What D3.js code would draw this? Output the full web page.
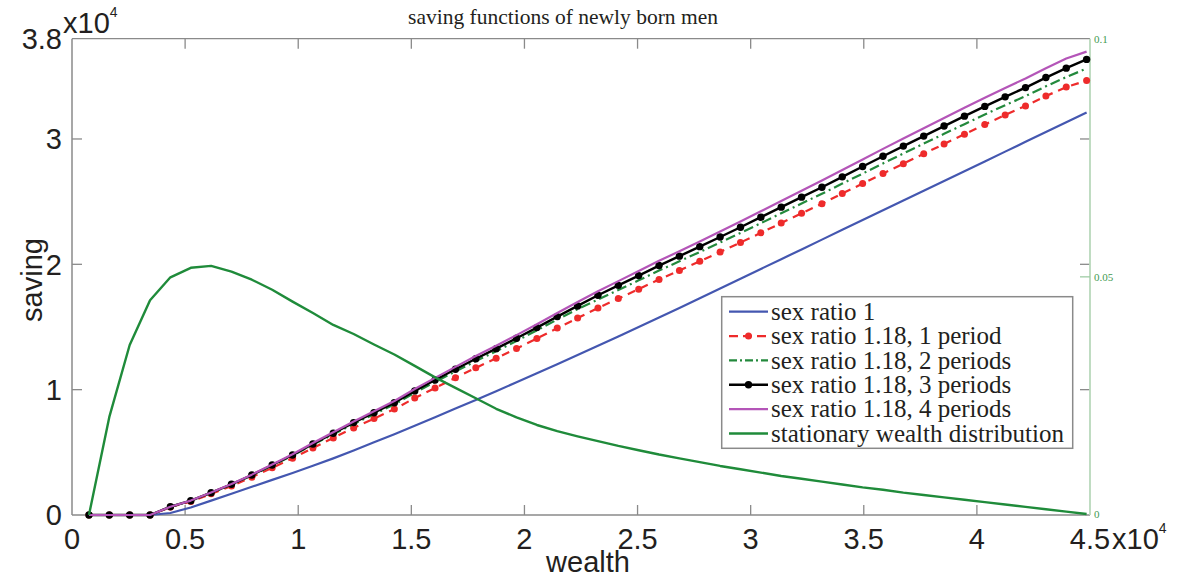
<!DOCTYPE html>
<html><head><meta charset="utf-8">
<script src="https://cdn.jsdelivr.net/npm/d3@7"></script>
<style>body{margin:0;background:#fff}svg{display:block}</style>
</head><body>
<svg id="c" width="1185" height="579"></svg>
<script>
// wealth grid (x 10^4)
const wealth = [0.075,0.165,0.255,0.345,0.435,0.525,0.615,0.705,0.795,0.885,0.975,1.065,1.155,1.245,1.335,1.425,1.515,1.605,1.695,1.785,1.875,1.965,2.055,2.145,2.235,2.325,2.415,2.505,2.595,2.685,2.775,2.865,2.955,3.045,3.135,3.225,3.315,3.405,3.495,3.585,3.675,3.765,3.855,3.945,4.035,4.125,4.215,4.305,4.395,4.485];
// saving (x 10^4)
const ratio1 = [0,0,0,0,0.016,0.06,0.115,0.17,0.225,0.28,0.335,0.393,0.452,0.515,0.58,0.645,0.712,0.78,0.849,0.918,0.988,1.059,1.131,1.203,1.276,1.35,1.425,1.5,1.575,1.651,1.729,1.807,1.885,1.963,2.041,2.119,2.197,2.275,2.353,2.431,2.509,2.587,2.665,2.743,2.821,2.899,2.977,3.055,3.133,3.211];
const period1 = [0,0,0,0,0.063,0.108,0.169,0.232,0.302,0.377,0.452,0.535,0.615,0.695,0.769,0.845,0.933,1.014,1.095,1.174,1.25,1.328,1.408,1.491,1.571,1.652,1.727,1.802,1.879,1.951,2.024,2.098,2.174,2.251,2.329,2.407,2.484,2.565,2.644,2.724,2.803,2.882,2.96,3.038,3.116,3.191,3.264,3.342,3.414,3.466];
const period2 = [0,0,0,0,0.065,0.113,0.176,0.243,0.316,0.395,0.474,0.561,0.645,0.726,0.804,0.883,0.975,1.061,1.146,1.228,1.307,1.389,1.473,1.559,1.643,1.718,1.795,1.872,1.95,2.024,2.098,2.174,2.25,2.328,2.407,2.485,2.563,2.644,2.724,2.805,2.884,2.963,3.041,3.118,3.195,3.269,3.342,3.42,3.494,3.562];
const period3 = [0,0,0,0,0.066,0.114,0.178,0.245,0.319,0.399,0.479,0.567,0.652,0.737,0.816,0.896,0.99,1.077,1.163,1.247,1.327,1.41,1.495,1.583,1.668,1.753,1.832,1.91,1.99,2.065,2.141,2.218,2.296,2.376,2.456,2.536,2.615,2.698,2.78,2.862,2.943,3.023,3.103,3.182,3.26,3.336,3.41,3.49,3.565,3.635];
const period4 = [0,0,0,0,0.066,0.115,0.18,0.247,0.322,0.403,0.484,0.574,0.66,0.746,0.827,0.909,1.005,1.094,1.182,1.268,1.35,1.435,1.522,1.612,1.699,1.785,1.866,1.946,2.028,2.104,2.182,2.261,2.341,2.423,2.505,2.587,2.668,2.753,2.837,2.921,3.004,3.086,3.168,3.249,3.329,3.407,3.483,3.565,3.642,3.697];
// stationary wealth distribution (right axis)
const distribution = [0,0.0206,0.0357,0.0451,0.0499,0.0519,0.0523,0.0511,0.0494,0.0473,0.0448,0.0424,0.0399,0.038,0.0358,0.0337,0.0313,0.0289,0.0267,0.0245,0.0223,0.0205,0.0189,0.0176,0.0165,0.0155,0.0145,0.0136,0.0127,0.0119,0.0111,0.0103,0.0096,0.0089,0.0082,0.0076,0.007,0.0064,0.0058,0.0053,0.0047,0.0042,0.0037,0.0032,0.0027,0.0022,0.0017,0.0012,0.0007,0.0002];

const xTicks = [0,0.5,1,1.5,2,2.5,3,3.5,4,4.5];
const xTickLabels = ["0","0.5","1","1.5","2","2.5","3","3.5","4","4.5"];
const yTicks = [0,1,2,3,3.8];
const yTickLabels = ["0","1","2","3","3.8"];
const y2Ticks = [0,0.05,0.1];
const y2TickLabels = ["0","0.05","0.1"];
const legendLabels = ["sex ratio 1","sex ratio 1.18, 1 period","sex ratio 1.18, 2 periods","sex ratio 1.18, 3 periods","sex ratio 1.18, 4 periods","stationary wealth distribution"];

const svg = d3.select("#c");
const L=72, R=1090, T=38.7, B=515;
const x = d3.scaleLinear().domain([0,4.5]).range([L,R]);
const y = d3.scaleLinear().domain([0,3.8]).range([B,T]);
const y2 = d3.scaleLinear().domain([0,0.1]).range([B,T]);
const axisGray = "#8a8a8a", txt="#231f20";
const sans = "'Liberation Sans', Arial, sans-serif", serif="'Liberation Serif','Times New Roman',serif";

const series = [
  {vals: ratio1, color:"#4457b0", dash:null, marker:false, w:2.2},
  {vals: period1, color:"#ee2b2b", dash:"8,6", marker:true, r:3.5, w:2.2},
  {vals: period2, color:"#23893c", dash:"10,4,2,4", marker:false, w:2.2},
  {vals: period3, color:"#000000", dash:null, marker:true, r:3.7, w:2.4},
  {vals: period4, color:"#b455b8", dash:null, marker:false, w:2.2},
];
const distColor = "#1f8b3a";

// axes frame
const g = svg.append("g");
g.append("line").attr("x1",L).attr("x2",R).attr("y1",T).attr("y2",T).attr("stroke",axisGray).attr("stroke-width",1.3);
g.append("line").attr("x1",L).attr("x2",R).attr("y1",B).attr("y2",B).attr("stroke",axisGray).attr("stroke-width",1.5);
g.append("line").attr("x1",L).attr("x2",L).attr("y1",T).attr("y2",B).attr("stroke",axisGray).attr("stroke-width",1.5);

// x ticks (inward, bottom and top)
xTicks.slice(1,-1).forEach(t=>{
  g.append("line").attr("x1",x(t)).attr("x2",x(t)).attr("y1",B).attr("y2",B-10).attr("stroke",axisGray).attr("stroke-width",1.3);
  g.append("line").attr("x1",x(t)).attr("x2",x(t)).attr("y1",T).attr("y2",T+10).attr("stroke",axisGray).attr("stroke-width",1.3);
});
// y ticks (left inward, right mirrored)
yTicks.slice(1,-1).forEach(t=>{
  g.append("line").attr("x1",L).attr("x2",L+10).attr("y1",y(t)).attr("y2",y(t)).attr("stroke",axisGray).attr("stroke-width",1.3);
  g.append("line").attr("x1",R).attr("x2",R-10).attr("y1",y(t)).attr("y2",y(t)).attr("stroke",axisGray).attr("stroke-width",1.3);
});
// x tick labels
xTicks.forEach((t,i)=>{
  svg.append("text").attr("x",x(t)).attr("y",549).attr("text-anchor","middle")
    .attr("font-family",sans).attr("font-size",29).attr("fill",txt).text(xTickLabels[i]);
});
// x exponent
const ex = svg.append("text").attr("x",1112).attr("y",549).attr("font-family",sans).attr("font-size",29).attr("fill",txt);
ex.append("tspan").text("x10");
ex.append("tspan").attr("dy",-16).attr("font-size",14).text("4");
// y tick labels
yTicks.forEach((t,i)=>{
  svg.append("text").attr("x",62).attr("y",y(t)).attr("dy","0.36em").attr("text-anchor","end")
    .attr("font-family",sans).attr("font-size",29).attr("fill",txt).text(yTickLabels[i]);
});
const ey = svg.append("text").attr("x",63).attr("y",33).attr("font-family",sans).attr("font-size",29).attr("fill",txt);
ey.append("tspan").text("x10");
ey.append("tspan").attr("dy",-16).attr("font-size",14).text("4");

// right axis
g.append("line").attr("x1",R).attr("x2",R).attr("y1",T).attr("y2",B).attr("stroke","#b9d9bc").attr("stroke-width",1.8);
y2Ticks.forEach((t,i)=>{
  if(i>0 && i<y2Ticks.length-1) g.append("line").attr("x1",R).attr("x2",R-10).attr("y1",y2(t)).attr("y2",y2(t)).attr("stroke","#9fcca5").attr("stroke-width",1.3);
  svg.append("text").attr("x",R+4).attr("y",y2(t)).attr("dy", i===0? "0.3em": "0.35em")
    .attr("font-family",serif).attr("font-size",11).attr("fill","#3f9a52").text(y2TickLabels[i]);
});

// axis titles
svg.append("text").attr("transform","translate(42,280) rotate(-90)").attr("text-anchor","middle")
  .attr("font-family",sans).attr("font-size",29).attr("fill",txt).text("saving");
svg.append("text").attr("x",588).attr("y",572).attr("text-anchor","middle")
  .attr("font-family",sans).attr("font-size",29).attr("fill",txt).text("wealth");
svg.append("text").attr("x",563).attr("y",24).attr("text-anchor","middle")
  .attr("font-family",serif).attr("font-size",21.5).attr("fill",txt).text("saving functions of newly born men");

// series
const line = d3.line().x((d,i)=>x(wealth[i])).y(d=>y(d));
series.forEach(s=>{
  svg.append("path").attr("d",line(s.vals)).attr("fill","none").attr("stroke",s.color)
    .attr("stroke-width",s.w).attr("stroke-dasharray",s.dash).attr("stroke-linejoin","round");
  if(s.marker){
    svg.append("g").selectAll("circle").data(s.vals).join("circle")
      .attr("cx",(d,i)=>x(wealth[i])).attr("cy",d=>y(d)).attr("r",s.r).attr("fill",s.color);
  }
});
const line2 = d3.line().x((d,i)=>x(wealth[i])).y(d=>y2(d));
svg.append("path").attr("d",line2(distribution)).attr("fill","none").attr("stroke",distColor).attr("stroke-width",2.4).attr("stroke-linejoin","round");

// legend
const lg = svg.append("g");
lg.append("rect").attr("x",721.7).attr("y",296.7).attr("width",351).attr("height",151.6)
  .attr("fill","#fff").attr("stroke","#8a8a8a").attr("stroke-width",1.5);
const legSeries = series.concat([{color:distColor,dash:null,marker:false,w:2.4}]);
legSeries.forEach((s,i)=>{
  const yy = 311.7 + i*24.35;
  lg.append("line").attr("x1",729).attr("x2",768).attr("y1",yy).attr("y2",yy).attr("stroke",s.color)
    .attr("stroke-width",s.w).attr("stroke-dasharray",s.dash ? (i===1?"9,5":"8,3,2,3") : null);
  if(s.marker) lg.append("circle").attr("cx",748.5).attr("cy",yy).attr("r",s.r).attr("fill",s.color);
  lg.append("text").attr("x",771).attr("y",yy).attr("dy","0.33em").attr("font-family",serif)
    .attr("font-size",25).attr("fill",txt).text(legendLabels[i]);
});
</script>
</body></html>
